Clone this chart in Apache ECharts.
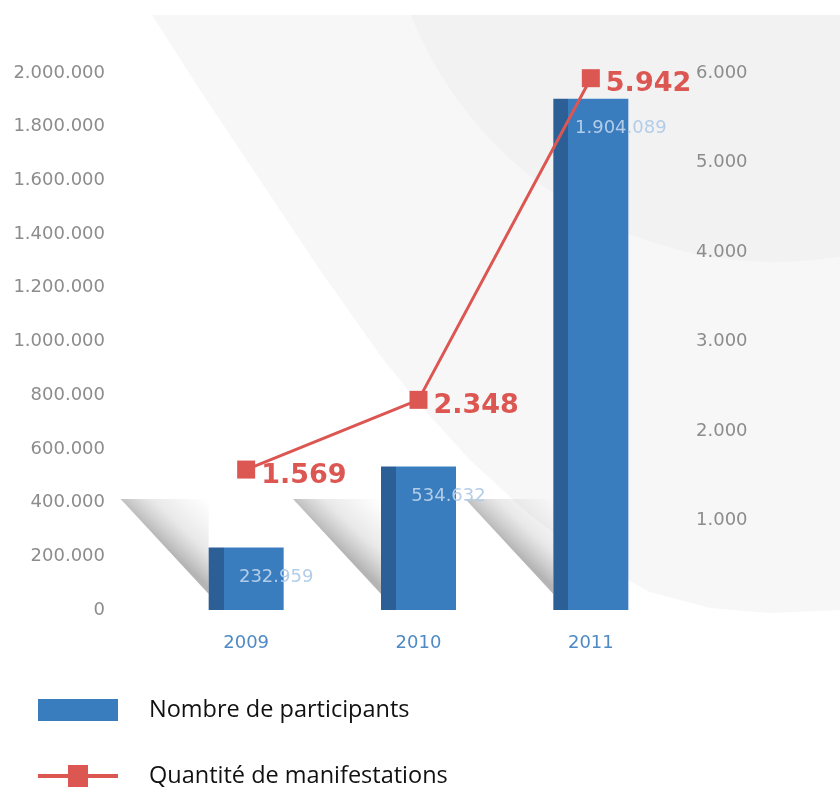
<!DOCTYPE html>
<html><head><meta charset="utf-8">
<script src="https://cdn.jsdelivr.net/npm/echarts@6/dist/echarts.min.js"></script>
<style>html,body{margin:0;padding:0;background:#fff}#c{width:840px;height:810px}</style>
</head><body><div id="c"></div>
<script>
const years = ['2009', '2010', '2011'];
const participants = [232959, 534632, 1904089];
const manifestations = [1569, 2348, 5942];
const leftAxisMax = 2000000, leftAxisStep = 200000;
const rightAxisMax = 6000, rightAxisStep = 1000;
const seriesNames = ['Nombre de participants', 'Quantité de manifestations'];

function fmt(v) { return String(Math.round(v)).replace(/\B(?=(\d{3})+(?!\d))/g, '.'); }

const chart = echarts.init(document.getElementById('c'));
const BAR_W = 75;
chart.setOption({
  backgroundColor: '#ffffff',
  animation: false,
  graphic: [
    { type: 'polygon', z: -30, silent: true,
      shape: { points: [[152,15],[200,90],[260,180],[320,270],[380,355],[420,405],[470,460],[530,515],[590,560],[650,592],[710,608],[770,613],[840,610],[840,15]] },
      style: { fill: '#f7f7f7' } },
    { type: 'circle', z: -29, silent: true, shape: { cx: 775, cy: -130, r: 392 }, style: { fill: '#f2f2f2' } },
    { type: 'rect', z: -28, silent: true, shape: { x: 0, y: 0, width: 840, height: 15 }, style: { fill: '#ffffff' } }
  ],
  grid: { left: 160, right: 163, top: 73, bottom: 200 },
  xAxis: {
    type: 'category', data: years,
    axisLine: { show: false }, axisTick: { show: false },
    axisLabel: { color: '#4f8ac4', fontSize: 18, fontFamily: 'DejaVu Sans', margin: 24 }
  },
  yAxis: [
    { type: 'value', min: 0, max: leftAxisMax, interval: leftAxisStep, position: 'left',
      splitLine: { show: false }, axisLine: { show: false }, axisTick: { show: false },
      axisLabel: { color: '#8c8c8c', fontSize: 18, fontFamily: 'DejaVu Sans', margin: 55, formatter: fmt } },
    { type: 'value', min: 0, max: rightAxisMax, interval: rightAxisStep, position: 'right',
      splitLine: { show: false }, axisLine: { show: false }, axisTick: { show: false },
      axisLabel: { color: '#8c8c8c', fontSize: 18, fontFamily: 'DejaVu Sans', margin: 19, showMinLabel: false, formatter: fmt } }
  ],
  legend: {
    orient: 'vertical', left: 33, top: 693, itemWidth: 80, itemHeight: 22, itemGap: 42,
    textStyle: { fontSize: 23.5, color: '#111', fontFamily: 'Open Sans', padding: [0, 0, 0, 26] },
    data: [
      { name: seriesNames[0], icon: 'rect', itemStyle: { color: '#3a7dbf' } },
      { name: seriesNames[1], icon: 'path://M0,9 H30 V0 H50 V9 H80 V13 H50 V22 H30 V13 H0 Z', itemStyle: { color: '#dc5652' } }
    ]
  },
  series: [
    { name: seriesNames[0], type: 'bar', data: participants, barWidth: BAR_W, yAxisIndex: 0, z: 2,
      itemStyle: { color: new echarts.graphic.LinearGradient(0, 0, 1, 0, [
        { offset: 0, color: '#2b5f96' }, { offset: 0.2, color: '#2b5f96' },
        { offset: 0.2, color: '#3a7dbf' }, { offset: 1, color: '#3a7dbf' } ]) },
      label: { show: true, position: 'insideTop', offset: [30, 16], color: '#b3cde9', fontSize: 18,
        fontFamily: 'DejaVu Sans', formatter: p => fmt(p.value) } },
    { name: seriesNames[1], type: 'line', data: manifestations, yAxisIndex: 1, z: 5,
      symbol: 'rect', symbolSize: 18,
      lineStyle: { color: '#dc5652', width: 3 }, itemStyle: { color: '#dc5652' },
      label: { show: true, position: 'right', distance: 6, offset: [0, 6], color: '#dc5652', fontSize: 27,
        fontWeight: 'bold', fontFamily: 'DejaVu Sans', formatter: p => fmt(p.value) } }
  ]
});

// soft floor shadows behind each bar, positioned from the library's scales
const shadows = [];
years.forEach((y, i) => {
  const bottom = chart.convertToPixel({ xAxisIndex: 0, yAxisIndex: 0 }, [i, 0]);
  const L = bottom[0] - BAR_W / 2, B = bottom[1] - 16;
  shadows.push({ id: 'sh' + i, type: 'polygon', z: -20, silent: true,
    shape: { points: [[L - 88, B - 95], [L, B - 95], [L, B]] },
    style: { fill: new echarts.graphic.LinearGradient(1, 0, 0.5, 0.5, [
      { offset: 0, color: 'rgba(150,150,150,0)' }, { offset: 0.6, color: 'rgba(130,130,130,0.18)' },
      { offset: 1, color: 'rgba(90,90,90,0.45)' } ]) } });
});
chart.setOption({ graphic: shadows });
</script></body></html>
